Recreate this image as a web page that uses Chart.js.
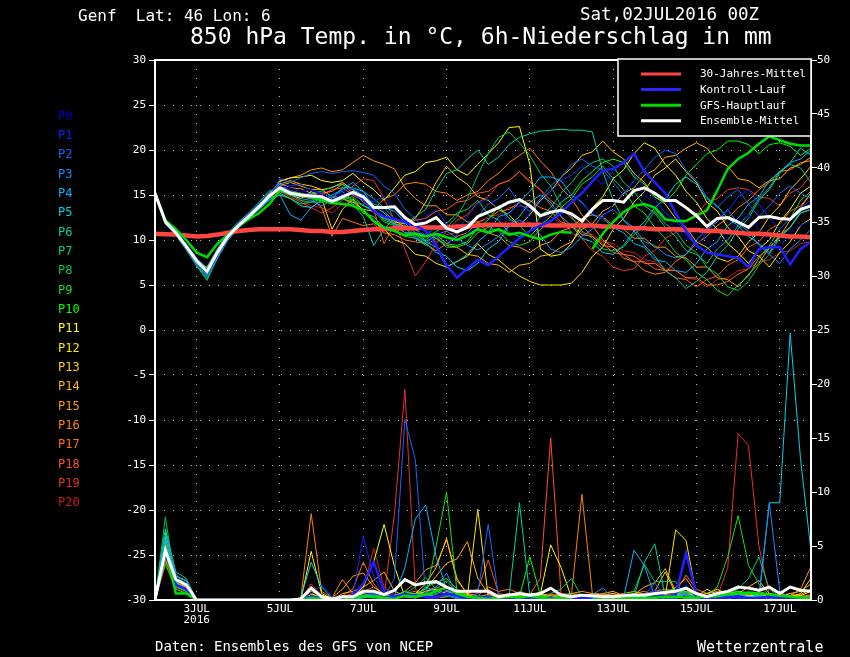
<!DOCTYPE html>
<html><head><meta charset="utf-8">
<script src="https://cdn.jsdelivr.net/npm/chart.js@4.4.0/dist/chart.umd.min.js"></script>
<style>html,body{margin:0;padding:0;background:#000;}canvas{display:block;}</style>
</head><body>
<canvas id="c" width="850" height="657"></canvas>
<script>
// forecast hours (6h steps from Sat 02JUL2016 00Z)
const hours = Array.from({length: 64}, (_, i) => i * 6);
const tickHours = [24, 72, 120, 168, 216, 264, 312, 360];
const tickLabels = [['3JUL', '2016'], '5JUL', '7JUL', '9JUL', '11JUL', '13JUL', '15JUL', '17JUL'];
const tempTicks = [-30, -25, -20, -15, -10, -5, 0, 5, 10, 15, 20, 25, 30];
const precipTicks = [0, 5, 10, 15, 20, 25, 30, 35, 40, 45, 50];

const memberNames = ['P0','P1','P2','P3','P4','P5','P6','P7','P8','P9','P10','P11','P12','P13','P14','P15','P16','P17','P18','P19','P20'];
const memberColors = ['#0000d2','#0028ff','#1464ff','#1e8cff','#00b4ff','#00d2e6','#00d2a0','#00cc78','#00c850','#1edc1e','#00ff00','#ffff00','#ffe600','#ffcc00','#ffb400','#ff9b00','#ff8200','#ff6e14','#ff5028','#e63228','#c81e1e'];

// 850 hPa temperature (°C) per member
const tP0 = [15.2,12.1,10.8,9.3,7.5,6.2,8.3,10.2,11.5,12.6,13.6,14.8, 16.0,15.8,15.4,15.6,15.0,14.5,15.1,15.4,14.6, 13.8,13.2,12.4,12.0,11.0,10.6,11.5,10.0, 9.6,10.8,11.4,12.6,11.6,12.9,13.8,12.4,11.6,13.2,14.4,15.2, 14.0,13.0,12.4,14.0,15.3,16.4,15.0,13.8,12.6,11.2,10.0,11.4, 10.0,9.0,10.6,12.0,12.8,11.2,10.0,9.2,10.8,11.6,12.2];
const tP1 = [15.2,12.2,10.9,9.3,7.6,6.3,8.5,10.3,11.6,12.7,13.8,15.0, 16.4,16.0,16.2,15.5,15.2,14.8,15.4,15.8,15.0, 14.2,14.9,13.4,12.2,11.4,12.6,13.4,11.8, 11.0,12.6,14.0,14.6,13.4,12.2,11.6,13.0,14.2,15.4,16.6,17.2, 18.2,17.0,16.2,17.6,18.8,17.2,16.0,14.6,13.0,12.2,10.6,9.4, 10.8,12.4,13.2,14.8,15.6,14.0,12.4,11.2,12.4,13.6,14.4];
const tP2 = [15.2,11.8,10.6,9.0,7.2,5.9,8.2,10.2,11.5,12.5,13.5,14.6, 16.8,16.4,16.9,17.4,17.6,17.4,17.6,17.7,17.5, 17.2,16.0,15.2,13.4,12.4,11.0,10.4,9.4, 10.6,11.8,12.6,14.0,14.6,15.8,14.0,13.2,14.6,16.0,17.0,18.4, 19.0,18.2,17.8,16.4,15.0,16.6,17.8,19.2,20.0,19.6,17.8,16.6, 14.8,13.6,14.8,15.6,14.0,12.6,13.8,15.2,16.0,15.2,14.6];
const tP3 = [15.2,12.0,11.0,9.6,8.0,6.7,8.8,10.6,11.8,12.9,14.0,15.3, 16.2,15.4,14.6,14.4,13.8,14.4,14.8,15.4,14.2, 13.4,12.4,11.9,10.8,10.4,9.6,10.6,11.0, 10.2,9.4,8.9,9.6,10.4,11.6,12.2,11.6,10.6,9.0,8.6,9.2, 10.4,11.2,12.8,13.4,12.2,11.4,9.8,9.4,8.4,8.0,8.4,10.0, 11.2,12.0,13.4,11.8,11.0,9.4,8.4,7.4,9.0,10.0,11.2];
const tP4 = [15.2,12.1,10.7,9.2,7.4,6.1,8.0,10.0,11.3,12.4,13.4,14.5, 15.0,12.8,12.2,13.6,14.4,15.0,15.6,16.4,15.4, 14.6,13.6,13.2,12.0,11.2,9.8,9.2,7.0, 7.6,8.4,9.8,10.8,12.6,13.0,14.2,15.4,17.0,17.0,16.6,15.0, 14.2,12.8,12.4,11.4,10.8,9.6,9.2,7.8,7.6,6.6,6.4,7.4, 9.0,9.8,11.6,12.4,14.0,14.8,16.6,17.6,18.6,19.0,20.0];
const tP5 = [15.2,11.9,10.8,9.5,7.9,6.9,9.0,10.8,12.0,13.0,14.2,15.5, 15.2,14.6,13.8,13.6,14.4,14.6,15.8,15.8,15.4, 13.8,13.0,11.8,11.4,10.2,9.6,8.6,8.2, 7.0,6.6,7.4,9.0,9.8,11.6,12.6,14.2,15.0,14.2,12.6,11.6, 10.2,9.8,8.6,8.4,9.4,11.0,12.0,13.6,14.6,16.2,17.0,16.2, 14.6,13.8,12.4,11.6,10.4,9.6,8.6,10.4,11.4,13.0,13.4];
const tP6 = [15.2,12.2,10.9,9.3,7.6,6.2,8.5,10.3,11.6,12.7,13.8,15.0, 16.0,15.4,15.0,14.6,14.4,14.0,14.6,14.0,12.6, 9.4,11.2,12.4,11.8,12.6,13.4,15.6,17.4, 17.8,19.0,20.0,18.4,19.2,20.6,21.4,21.8,22.1,22.2,22.3,22.2, 22.2,22.0,17.6,14.4,12.2,11.0,9.4,8.2,6.6,5.8,4.6,5.4, 6.4,8.2,9.4,11.2,12.4,14.4,15.6,17.4,18.6,20.2,19.4];
const tP7 = [15.2,11.8,10.6,9.0,7.2,5.7,8.2,10.2,11.5,12.5,13.5,14.6, 15.8,15.0,14.8,15.2,15.4,15.9,16.2,15.6,15.0, 14.0,13.6,12.4,11.9,10.8,10.6,11.4,11.8, 13.0,13.4,14.4,12.8,12.2,10.8,10.4,11.0,12.6,13.6,15.2,16.4, 17.8,18.6,19.0,18.2,16.4,15.4,13.8,13.0,11.4,10.4,8.8,8.4, 7.4,9.0,10.0,11.6,12.8,14.6,15.8,17.6,18.4,18.0,16.4];
const tP8 = [15.2,11.8,10.5,8.9,7.1,5.5,8.0,10.0,11.4,12.4,13.4,14.4, 15.4,15.0,14.4,14.2,14.6,14.8,15.4,14.4,13.8, 13.2,12.0,11.6,10.8,10.8,10.0,11.0,11.4, 12.6,14.6,17.2,19.6,21.4,22.0,20.8,19.4,17.4,16.0,13.8,12.6, 11.0,10.2,9.0,8.8,9.2,10.6,11.6,13.2,11.8,11.0,9.4,8.6, 7.0,6.2,4.8,4.4,5.4,7.2,8.4,10.2,11.4,13.2,13.8];
const tP9 = [15.2,12.0,10.8,9.2,7.4,6.0,8.3,10.2,11.5,12.6,13.6,14.7, 15.0,14.6,14.0,14.2,14.2,14.8,14.8,14.4,13.0, 12.6,11.4,11.2,10.4,10.2,9.4,10.2,9.2, 9.2,9.6,10.8,11.4,11.0,9.8,9.4,9.8,11.2,12.0,13.6,14.6, 16.2,17.0,18.2,16.8,15.6,13.8,13.0,11.4,10.2,8.6,7.8,6.4, 5.6,4.4,3.8,5.0,6.0,8.0,9.4,11.2,12.4,14.4,15.4];
const tP10 = [15.2,12.0,10.9,9.4,7.7,6.4,8.6,10.4,11.7,12.8,13.9,15.1, 15.6,15.2,15.0,14.8,14.6,14.0,14.6,14.8,13.8, 13.4,12.2,11.8,10.8,10.6,9.8,10.6,9.6, 9.4,9.8,11.4,12.2,13.8,12.4,11.6,10.4,11.6,12.6,14.2,15.0, 16.6,17.6,18.6,19.0,18.6,17.0,16.2,14.8,14.2,15.4,17.2,18.4, 19.6,20.0,21.0,21.0,20.6,19.6,20.6,20.8,20.4,19.4,20.2];
const tP11 = [15.2,12.1,10.8,9.3,7.5,6.2,8.4,10.3,11.6,12.7,13.8,15.0, 16.5,16.9,17.0,17.2,16.6,16.4,16.6,17.4,16.4, 15.6,14.4,15.8,17.2,17.6,18.6,18.8,19.2, 17.8,17.2,18.4,19.6,20.8,22.5,22.6,18.4,9.0,8.2,8.4,9.6, 11.8,13.6,14.8,16.8,17.8,19.6,20.8,20.2,18.4,17.2,15.4,14.2, 12.4,11.2,9.6,8.6,7.4,9.0,10.0,12.0,13.4,15.2,16.0];
const tP12 = [15.2,11.9,10.7,9.3,7.6,6.4,8.6,10.4,11.7,12.7,13.7,14.9, 15.5,15.0,14.6,15.4,14.6,11.2,13.4,14.6,13.2, 12.0,11.2,10.0,9.6,8.4,8.2,7.4,7.0, 7.6,8.2,9.6,8.4,7.8,6.8,6.0,5.4,5.0,5.0,5.0,5.2, 6.4,8.2,9.2,11.2,12.4,14.2,15.4,17.2,18.0,19.0,17.6,16.4, 14.2,13.2,11.4,10.4,8.8,8.2,7.0,8.6,9.8,11.6,12.4];
const tP13 = [15.2,12.0,10.9,9.4,7.8,6.6,8.7,10.5,11.7,12.8,13.9,15.2, 16.2,16.6,16.2,16.0,15.6,15.8,16.4,15.6,14.6, 13.8,13.2,12.0,11.8,12.4,14.2,16.4,18.2, 17.0,16.2,14.8,14.4,13.4,12.8,11.6,12.8,14.4,15.4,17.0,18.0, 19.4,19.8,21.0,19.8,19.0,17.4,16.4,14.8,14.0,12.4,11.4,9.8, 9.2,8.0,7.6,8.2,9.8,10.8,12.6,13.8,15.6,16.8,18.2];
const tP14 = [15.2,12.1,10.8,9.2,7.3,6.6,8.8,10.5,11.6,12.6,13.6,14.8, 16.0,16.4,16.0,15.6,15.6,14.8,14.6,14.2,13.4, 13.2,12.4,12.2,11.4,11.2,10.4,10.2,9.4, 9.2,8.4,8.2,7.4,7.2,6.4,7.2,7.4,8.2,8.4,9.2,9.8, 11.2,11.8,13.2,13.8,15.2,15.8,17.2,17.8,19.2,19.4,20.2,20.8, 20.2,18.8,18.2,16.8,16.6,15.8,16.6,16.8,18.0,18.4,19.2];
const tP15 = [15.2,12.0,10.7,9.1,7.3,7.0,9.0,10.6,11.7,12.7,13.8,15.0, 16.6,16.9,17.2,17.8,18.0,17.6,17.8,18.6,19.4, 18.8,18.4,17.9,15.8,14.6,13.8,13.8,12.8, 12.8,12.0,12.0,10.8,10.4,9.4,9.2,8.6,9.4,9.8,11.0,11.4, 12.4,12.8,12.6,11.6,11.2,10.2,10.2,9.2,9.2,8.2,8.0,7.0, 7.0,5.8,5.6,4.8,6.2,7.4,9.2,10.4,12.2,13.6,15.2];
const tP16 = [15.2,12.1,10.9,9.4,7.7,6.9,8.9,10.6,11.7,12.8,13.9,15.1, 16.3,15.8,15.7,15.2,15.2,15.4,16.2,15.2,14.8, 13.4,14.6,15.0,16.2,16.4,16.2,15.4,15.2, 14.4,15.0,15.4,16.6,17.4,18.6,19.4,20.2,18.8,17.6,15.8,14.6, 12.8,11.6,10.0,9.2,8.0,7.6,6.6,6.2,6.4,7.6,8.4,9.6, 10.4,11.6,12.4,13.6,14.4,15.6,16.4,17.6,17.8,18.6,18.8];
const tP17 = [15.2,11.9,10.8,9.4,7.8,6.5,8.6,10.4,11.6,12.7,13.8,15.1, 15.8,15.4,14.8,14.6,13.6,10.4,12.4,12.0,11.6, 11.8,10.8,10.6,10.0,9.8,9.6,8.8,9.6, 10.4,10.8,12.0,12.4,13.2,13.4,14.2,14.4,13.6,13.2,12.0,11.6, 10.6,10.4,9.4,9.2,8.4,8.2,7.4,7.4,6.6,6.6,5.8,5.8, 5.0,5.0,5.4,6.2,6.8,8.2,9.0,10.6,11.4,13.0,13.4];
const tP18 = [15.2,12.2,10.9,9.3,7.6,6.3,8.4,10.2,11.5,12.6,13.6,14.8, 15.9,15.5,15.2,14.8,15.0,15.6,15.8,15.0,14.4, 13.4,9.6,11.8,11.6,12.2,12.4,13.2,13.4, 14.2,14.4,15.2,15.4,16.2,16.6,17.6,16.4,15.6,14.4,13.6,12.4, 11.6,10.4,9.6,8.6,8.4,7.6,7.6,6.8,6.6,5.8,5.6,4.8, 5.6,6.0,7.2,7.8,9.2,9.8,11.2,11.8,13.2,13.8,15.2];
const tP19 = [15.2,12.0,10.7,9.1,7.2,6.0,8.2,10.1,11.4,12.4,13.5,14.6, 15.4,14.8,14.2,13.6,13.0,13.6,14.4,16.0,16.8, 16.6,14.6,12.2,9.0,6.0,7.6,9.6,11.0, 12.2,12.8,14.2,14.8,16.2,16.6,17.6,16.6,15.6,13.8,12.6,10.8, 10.2,8.8,8.2,7.0,6.6,6.8,8.2,8.8,10.2,10.8,12.2,12.8, 14.2,14.6,15.6,15.8,15.6,14.8,14.6,13.8,15.2,15.8,17.2];
const tP20 = [15.2,12.1,10.8,9.2,7.4,6.1,8.2,10.1,11.4,12.5,13.5,14.7, 15.0,14.6,14.4,13.8,13.6,13.0,14.0,14.2,14.0, 13.0,12.6,11.6,11.4,10.6,10.6,9.8,10.6, 10.8,11.6,11.8,12.6,12.8,13.6,13.8,13.6,12.8,12.6,11.8,11.6, 10.8,10.6,9.8,9.6,8.8,8.6,7.8,7.6,6.8,6.6,5.8,5.6, 4.8,5.6,5.8,6.6,6.8,7.6,7.8,8.6,8.8,9.6,9.8];

// 6h precipitation (mm) per member
const pP0 = [0,4.0,1.4,1.0,0,0,0,0, 0,0,0,0,0,0,0,0.4, 0.2,0,0,0.2,0.5,0.8,0.3,0.2, 0.6,0.3,0.2,0.4,1.0,0.6,0.2,0.3, 0.2,0,0.1,0.2,0,0.1,0.3,0.1, 0,0.2,0.1,0,0,0.3,0.2,0.1, 0.4,0.2,0.6,1.5,0.2,0,0.1,0.3, 0.4,0.2,0.1,0.3,0.4,0.2,0.1,0.1];
const pP1 = [0,5.0,1.8,1.6,0,0,0,0, 0,0,0,0,0,0,0,0.6, 1.4,0.3,0,0.4,5.9,2.2,0.4,0.2, 0.3,0.5,0.2,0.1,0.6,0.3,0.1,0.2, 0.4,0.1,0,0.2,0.1,0,0.2,0.1, 0,0.1,0,0.2,0.1,0,0.3,0.2, 0.5,0.3,0.4,4.6,0.2,0.1,0,0.2, 0.3,0.1,0.2,0.4,0.2,0.3,0.1,0];
const pP2 = [0,4.4,2.0,1.2,0,0,0,0, 0,0,0,0,0,0,0,0.2, 0.3,0,0.1,0.2,0.8,0.4,0.2,2.0, 16.7,13.0,0.3,0.2,0.4,0.1,0.2,0.6, 7.0,0.3,0.1,0,0.2,0.1,0,0.1, 0.2,0,0.1,0.3,0.1,0,0.2,0.4, 1.6,0.2,0.1,0.5,0.1,0,0.2,0.1, 0.3,0.2,0,0.2,0.1,0,0.1,0.2];
const pP3 = [0,6.0,2.2,1.8,0,0,0,0, 0,0,0,0,0,0,0,1.2, 0.2,0,0,0.1,0.4,0.6,0.2,0.3, 0.5,0.2,0.6,1.2,2.5,0.4,0.2,0.1, 0.3,0.1,0,0.2,0,0.1,0.2,0, 0.1,0.3,0.5,1.1,0.2,0.1,0.2,0, 0.3,0.1,0.2,0.6,0.1,0,0.2,0.4, 0.5,0.3,0.3,9.0,0.8,0.2,0.1,0];
const pP4 = [0,5.6,2.4,1.4,0,0,0,0, 0,0,0,0,0,0,0,1.0, 0.4,0.1,0,0.2,0.3,0.5,0.2,0.4, 3.0,7.5,8.8,4.0,1.0,0.3,0.2,0.1, 0.2,0.3,0.1,0,0.1,0.2,0,0.1, 0,0.1,0.2,0.1,0.2,0.2,4.6,3.2, 0.3,0.2,0.4,1.2,0.3,0.1,0,0.2, 0.3,0.1,0.2,0.3,0.2,0.1,0,0.1];
const pP5 = [0,4.8,1.6,1.0,0,0,0,0, 0,0,0,0,0,0,0.2,3.5, 1.2,0.2,0,0.1,0.2,0.3,0.1,0.2, 0.4,0.3,1.2,0.8,0.6,0.3,0.1,0.2, 0.1,0,0.2,0.1,0.2,0,0.1,0.2, 0.1,0,0.2,0.4,0.1,0.2,0.3,0.5, 0.2,0.4,0.3,0.6,0.2,0.1,0.3,0.2, 0.4,0.3,0.2,9.0,9.0,24.7,13.0,4.5];
const pP6 = [0,6.6,2.6,2.0,0,0,0,0, 0,0,0,0,0,0,0,0.3, 0.1,0,0,0.2,0.4,0.3,0.1,0.2, 0.3,0.2,0.4,0.6,0.9,0.2,0.1,0.3, 0.2,0.1,0.3,9.0,0.3,0.1,0.2,0.4, 0.6,0.2,0.1,0.2,0.3,0.4,0.3,3.5, 5.2,0.3,0.4,0.6,0.2,0.1,0.2,0.4, 0.3,0.6,0.4,0.3,0.2,0.4,0.2,0.1];
const pP7 = [0,5.2,2.0,1.6,0,0,0,0, 0,0,0,0,0,0,0,0.2, 0.2,0.1,0,0.2,0.3,0.2,0.4,0.3, 0.8,0.4,0.6,0.3,0.5,0.2,0.1,0.3, 0.2,0.1,0,0.3,0.2,0.1,0.6,1.0, 2.0,0.3,0.2,0.1,0.2,0.3,0.2,0.6, 0.4,0.3,0.5,1.0,0.6,0.3,0.4,0.6, 1.0,2.0,4.0,1.0,0.3,0.2,0.1,0.2];
const pP8 = [0,7.7,1.2,0.8,0,0,0,0, 0,0,0,0,0,0,0,0.1, 0,0,0.1,0.2,0.3,0.2,0.1,0.3, 0.6,1.2,2.1,1.0,1.8,0.6,0.2,0.4, 0.3,0.2,0.1,0.4,0.6,0.2,0.1,0.2, 0.1,0,0.2,0.3,0.2,0.4,0.8,3.3, 1.7,1.7,1.7,0.3,0.2,0.1,0.3,0.5, 0.4,0.6,0.3,0.2,0.1,0,0.1,0.1];
const pP9 = [0,3.4,1.0,0.6,0,0,0,0, 0,0,0,0,0,0,0,0.2, 0.1,0,0,0.1,0.2,0.4,0.3,0.2, 0.4,0.6,0.5,5.0,10.0,0.8,0.3,0.2, 0.1,0.2,0.3,0.1,0.2,0.4,0.1,0.2, 0.1,0.2,0.3,0.1,0.2,0.3,0.4,0.6, 0.3,0.2,0.5,0.8,0.6,0.4,1.2,4.0, 7.8,3.2,1.5,0.4,0.2,0.1,0.1,0.2];
const pP10 = [0,6.4,1.4,0.9,0,0,0,0, 0,0,0,0,0,0,0,0.3, 0.1,0,0,0.2,0.3,0.2,0.6,0.3, 0.8,0.4,1.2,1.6,2.0,1.0,0.4,0.2, 0.3,0.2,0.1,0.3,4.0,0.5,0.2,0.1, 0.3,0.2,0.1,0.2,0.3,0.1,0.2,0.4, 0.6,0.8,1.0,0.7,0.4,0.3,0.2,0.5, 0.8,0.6,0.4,0.3,0.2,0.1,0.1,0.1];
const pP11 = [0,5.8,2.2,1.8,0,0,0,0, 0,0,0,0,0,0,0,4.5, 0.6,0.1,0,0.3,1.2,3.5,7.0,3.1, 0.3,0.2,0.4,0.2,0.3,0.5,0.2,0.1, 0.3,0.2,0.1,0.4,0.6,0.5,5.1,3.0, 0.2,0.1,0.3,0.2,0.4,0.3,0.6,0.4, 0.5,0.3,0.2,0.6,0.4,0.6,1.0,0.5, 0.4,0.3,0.6,0.2,0.3,0.2,0.4,0.8];
const pP12 = [0,4.2,1.8,1.4,0,0,0,0, 0,0,0,0,0,0,0,0.5, 0.2,0,0,0.3,0.5,0.8,0.4,0.2, 0.3,0.5,0.8,1.0,0.6,0.2,0.3,8.4, 0.3,0.2,0.1,0.3,0.6,0.4,0.2,0.3, 0.2,0.1,0.4,0.2,0.3,0.2,0.5,0.3, 0.6,0.3,6.5,5.5,0.4,0.3,0.2,0.5, 0.6,0.4,0.3,0.6,0.4,0.3,0.6,2.0];
const pP13 = [0,6.2,2.0,1.2,0,0,0,0, 0,0,0,0,0,0,0,0.6, 0.2,0.1,0,0.2,0.6,0.4,0.3,0.2, 0.5,0.6,1.5,3.0,5.7,2.0,0.5,0.3, 0.2,0.4,0.6,0.3,0.2,0.5,0.3,0.2, 0.1,0.3,0.2,0.4,0.6,0.3,0.2,0.4, 0.8,2.6,0.6,0.4,0.3,1.0,0.5,0.4, 0.6,1.2,1.8,0.6,0.4,0.3,0.5,1.0];
const pP14 = [0,3.8,1.6,1.2,0,0,0,0, 0,0,0,0,0,0,0,0.3, 0.1,0,0.6,0.8,1.2,1.8,2.6,0.8, 0.4,0.6,1.0,2.2,3.4,3.8,5.4,2.0, 0.6,0.4,0.3,0.5,0.3,0.6,0.4,0.2, 0.3,0.2,0.4,0.6,0.8,0.4,0.5,1.2, 1.6,2.9,0.8,1.0,0.4,0.3,0.6,0.8, 0.5,0.3,0.6,0.4,0.3,0.6,0.8,1.5];
const pP15 = [0,4.6,1.9,1.5,0,0,0,0, 0,0,0,0,0,0,0.1,0.8, 0.4,0.2,1.0,2.2,2.5,1.2,0.6,0.4, 0.8,1.6,2.8,3.2,5.6,1.8,0.6,0.4, 0.3,0.5,0.2,0.4,0.6,0.3,0.5,0.4, 0.6,0.8,0.6,0.5,0.4,0.6,0.8,0.5, 0.4,0.6,1.2,2.0,0.6,0.4,0.5,0.6, 0.8,0.5,0.4,0.3,0.6,0.4,1.0,3.1];
const pP16 = [0,5.4,1.7,1.1,0,0,0,0, 0,0,0,0,0,0,0.2,8.0, 0.8,0.2,1.9,0.6,0.4,0.8,0.5,0.3, 0.6,0.4,0.8,1.2,0.9,0.6,0.4,0.3, 0.5,0.3,0.4,0.6,0.5,0.4,0.3,0.6, 0.5,9.8,0.6,0.5,0.3,0.4,0.6,0.8, 0.5,0.4,0.6,0.8,0.5,0.3,0.4,0.6, 0.8,0.6,0.5,0.3,0.4,0.3,0.2,0.4];
const pP17 = [0,4.0,1.3,0.8,0,0,0,0, 0,0,0,0,0,0,0,0.5, 0.3,0.1,0.4,1.0,3.5,1.5,0.4,0.3, 0.6,0.8,0.4,0.3,0.6,0.8,0.5,0.4, 1.2,0.8,1.0,0.6,0.4,0.5,0.3,0.4, 0.6,0.5,0.4,0.5,0.6,0.4,0.3,0.6, 0.8,1.0,0.8,2.3,1.0,0.6,0.8,0.5, 0.6,0.4,0.8,0.5,0.4,0.6,0.3,0.5];
const pP18 = [0,3.6,1.5,1.0,0,0,0,0, 0,0,0,0,0,0,0,0.3, 0.2,0.1,0.3,0.6,0.8,1.2,0.5,0.3, 0.4,0.6,0.3,0.5,0.8,0.4,0.6,1.0, 3.7,0.6,0.4,0.8,0.5,2.0,15.0,0.5, 0.4,0.3,0.6,0.5,0.4,0.3,0.5,0.6, 0.8,0.5,0.4,0.6,0.5,0.4,0.3,0.6, 0.4,0.3,0.5,0.2,0.3,0.4,0.3,0.2];
const pP19 = [0,4.4,1.2,0.9,0,0,0,0, 0,0,0,0,0,0,0,1.5, 0.4,0.2,0.1,0.3,0.6,0.8,0.3,8.0, 19.5,1.0,0.4,0.3,0.6,0.4,0.2,0.3, 0.5,0.3,0.2,0.4,0.3,0.5,0.3,0.2, 0.3,0.4,0.2,0.3,0.4,0.5,0.3,0.4, 0.6,0.5,0.4,0.8,0.5,0.4,0.3,3.0, 15.4,14.3,5.0,0.5,0.3,0.2,0.4,0.3];
const pP20 = [0,3.2,1.1,0.7,0,0,0,0, 0,0,0,0,0,0,0,0.2, 0.1,0,0.2,0.4,1.0,4.8,1.2,0.5, 0.3,0.6,0.4,0.2,0.5,0.3,0.4,0.6, 1.0,0.4,0.3,0.5,0.2,0.4,0.6,0.3, 0.2,0.4,0.3,0.2,0.5,0.3,0.4,0.6, 0.4,0.3,0.5,0.6,0.4,0.3,0.5,0.8, 0.6,0.4,0.3,0.5,0.4,0.2,0.3,0.4];

// special series
const temp30y = [10.7,10.65,10.6,10.5,10.4,10.45,10.6,10.8,11.0, 11.1,11.2,11.2,11.2,11.2,11.1,11.0,11.0, 10.9,10.9,11.0,11.1,11.2,11.2,11.3,11.3, 11.3,11.4,11.4,11.4,11.5,11.5,11.6,11.7, 11.7,11.7,11.7,11.7,11.7,11.6,11.6,11.6, 11.6,11.6,11.5,11.5,11.4,11.3,11.3,11.2, 11.2,11.2,11.1,11.1,11.0,11.0,10.9,10.8, 10.7,10.7,10.6,10.5,10.4,10.4,10.3];
const tempControl = [15.2,12.1,10.9,9.4,7.7,6.4,8.5,10.3,11.6,12.6,13.7,14.9, 15.8,15.4,15.1,15.0,14.8,14.4,14.9,15.2,14.6, 13.2,12.6,12.3,12.0,11.6,11.0,9.4,7.2, 5.8,6.8,7.8,7.2,8.2,9.2,10.2,11.0,11.6,12.1,13.0,14.2, 15.2,16.5,17.7,17.9,18.6,19.6,17.6,16.4,15.2,13.0,11.0,9.4, 8.6,8.4,8.2,8.0,7.0,9.0,9.2,9.2,7.3,9.0,9.8];
const tempMain = [15.2,12.2,11.2,10.0,8.6,8.1,9.6,10.6,11.5,12.3,13.0,14.0, 15.5,15.3,15.1,14.8,14.4,14.1,14.0,13.8,13.3, 12.1,11.4,11.0,10.5,10.7,10.4,10.7,10.3, 10.0,10.5,11.2,10.8,11.2,10.6,10.8,10.4,10.1,10.6,10.9,10.8, null,9.0,10.7,12.0,13.1,13.8,14.0,13.6,12.3,12.1,12.1,12.7, 13.3,15.5,17.9,19.0,19.7,20.7,21.5,21.1,20.7,20.5,20.5];
const tempMean = [15.2,12.0,10.8,9.3,7.7,6.5,8.6,10.4,11.6,12.6,13.7,14.9, 15.8,15.2,15.0,14.9,14.8,14.3,14.8,15.3,14.8, 13.6,13.6,13.7,12.5,11.7,11.9,12.5,11.3, 10.9,11.4,12.6,13.1,13.6,14.2,14.5,13.8,12.7,13.1,13.3,12.9, 12.1,13.4,14.4,14.4,14.2,15.5,15.8,15.2,14.4,14.4,13.6,12.7, 11.5,12.4,12.5,12.0,11.4,12.5,12.6,12.4,12.3,13.4,13.8];
const precipControl = [0,4.4,1.4,1.0,0,0,0,0, 0,0,0,0,0,0,0,0.3, 0.2,0,0,0.4,1.5,3.5,0.8,0.3, 0.5,0.4,0.3,0.2,0.6,0.4,0.2,0.3, 0.2,0.1,0.2,0.1,0.3,0.2,0.1,0.2, 0.1,0.2,0.1,0.2,0.1,0.3,0.2,0.4, 0.8,0.3,0.5,4.3,0.5,0.2,0.1,0.3, 0.2,0.1,0.2,0.3,0.2,0.1,0.2,0.1];
const precipMain = [0,4.8,0.6,0.6,0,0,0,0, 0,0,0,0,0,0,0,0.2, 0.1,0,0,0.2,0.4,0.3,0.2,0.1, 0.4,0.3,0.5,0.8,1.2,0.6,0.3,0.2, 0.1,0.2,0.3,0.2,0.4,0.2,0.1,0.2, 0.1,null,0.1,0.1,0.1,0.2,0.2,0.2, 0.2,0.3,0.3,0.2,0.2,0.3,0.4,0.5, 0.6,0.7,0.6,0.5,0.4,0.3,0.2,0.2];
const precipMean = [0,4.6,1.9,1.4,0,0,0,0, 0,0,0,0,0,0,0.1,1.1, 0.3,0.1,0.3,0.3,0.8,0.8,0.5,0.9, 1.9,1.4,1.6,1.7,1.2,0.8,0.8,0.8, 0.8,0.3,0.45,0.6,0.45,0.6,1.1,0.45, 0.3,0.45,0.4,0.3,0.3,0.4,0.45,0.45, 0.6,0.7,0.8,1.1,0.6,0.3,0.6,0.8, 1.2,1.1,0.9,1.2,0.6,1.2,0.9,0.8];

const tempMembers = [tP0,tP1,tP2,tP3,tP4,tP5,tP6,tP7,tP8,tP9,tP10,tP11,tP12,tP13,tP14,tP15,tP16,tP17,tP18,tP19,tP20];
const precipMembers = [pP0,pP1,pP2,pP3,pP4,pP5,pP6,pP7,pP8,pP9,pP10,pP11,pP12,pP13,pP14,pP15,pP16,pP17,pP18,pP19,pP20];

const legendItems = [
  {label: '30-Jahres-Mittel', color: '#ff4646'},
  {label: 'Kontroll-Lauf', color: '#2828ff'},
  {label: 'GFS-Hauptlauf', color: '#00dc00'},
  {label: 'Ensemble-Mittel', color: '#ffffff'}
];

const MONO = '"DejaVu Sans Mono", monospace';
const COL30 = '#ff4444', COLCTRL = '#2020ff', COLMAIN = '#00dd00', COLMEAN = '#ffffff';

function pts(arr) { return arr.map((v, i) => ({x: hours[i], y: v})); }
function line(arr, axis, color, width, order) {
  return {data: pts(arr), yAxisID: axis, borderColor: color, borderWidth: width, order: order,
          pointRadius: 0, tension: 0, fill: false, spanGaps: false};
}

const datasets = [];
for (let m = 0; m < memberNames.length; m++) {
  datasets.push(line(precipMembers[m], 'y2', memberColors[m], 1, 20));
  datasets.push(line(tempMembers[m], 'y', memberColors[m], 1, 10));
}
datasets.push(line(temp30y, 'y', COL30, 4.5, 5));
datasets.push(line(precipControl, 'y2', COLCTRL, 2.5, 4));
datasets.push(line(tempControl, 'y', COLCTRL, 2.5, 4));
datasets.push(line(precipMain, 'y2', COLMAIN, 2.5, 3));
datasets.push(line(tempMain, 'y', COLMAIN, 2.5, 3));
datasets.push(line(precipMean, 'y2', COLMEAN, 3, 1));
datasets.push(line(tempMean, 'y', COLMEAN, 3, 1));

const deco = {
  id: 'deco',
  beforeDraw(chart) {
    const c = chart.ctx;
    c.save(); c.fillStyle = '#000'; c.fillRect(0, 0, chart.width, chart.height); c.restore();
  },
  afterDatasetsDraw(chart) {
    const c = chart.ctx, a = chart.chartArea;
    c.save();
    c.strokeStyle = '#fff'; c.lineWidth = 2; c.setLineDash([]);
    c.strokeRect(a.left, a.top, a.right - a.left, a.bottom - a.top);
    // legend box
    const bx = 618, by = 59, bw = a.right - bx, bh = 77;
    c.fillStyle = '#000'; c.fillRect(bx, by, bw, bh);
    c.lineWidth = 1.5; c.strokeRect(bx, by, bw, bh);
    c.font = '11px ' + MONO; c.textBaseline = 'middle'; c.textAlign = 'left';
    const ys = [74, 89.5, 105.3, 120.7];
    legendItems.forEach((it, i) => {
      c.strokeStyle = it.color; c.lineWidth = 3;
      c.beginPath(); c.moveTo(641, ys[i]); c.lineTo(681, ys[i]); c.stroke();
      c.fillStyle = '#fff'; c.fillText(it.label, 700, ys[i] + 0.5);
    });
    c.restore();
  },
  afterDraw(chart) {
    const c = chart.ctx;
    c.save();
    c.fillStyle = '#fff'; c.textAlign = 'left'; c.textBaseline = 'alphabetic';
    c.font = '16px ' + MONO; c.fillText('Genf  Lat: 46 Lon: 6', 78, 21);
    c.font = '17.5px ' + MONO; c.fillText('Sat,02JUL2016 00Z', 580, 20);
    c.font = '23px ' + MONO; c.fillText('850 hPa Temp. in \u00B0C, 6h-Niederschlag in mm', 190, 44);
    c.font = '14px ' + MONO; c.fillText('Daten: Ensembles des GFS von NCEP', 155, 651);
    c.font = '15px ' + MONO; c.fillText('Wetterzentrale', 697, 652);
    c.font = '12px ' + MONO; c.textBaseline = 'middle';
    memberNames.forEach((n, i) => { c.fillStyle = memberColors[i]; c.fillText(n, 58, 116.7 + i * 19.33); });
    c.restore();
  }
};

Chart.defaults.color = '#ffffff';
Chart.defaults.font.family = MONO;
Chart.defaults.font.size = 11;

new Chart(document.getElementById('c'), {
  type: 'line',
  data: {datasets},
  options: {
    responsive: false, animation: false, devicePixelRatio: 1, events: [],
    layout: {padding: {top: 60, left: 0, right: 0, bottom: 0}},
    plugins: {legend: {display: false}, tooltip: {enabled: false}, title: {display: false}},
    scales: {
      x: {
        type: 'linear', min: 0, max: 378,
        afterBuildTicks: s => { s.ticks = tickHours.map(v => ({value: v})); },
        afterFit: s => { s.height = 57; },
        ticks: {color: '#fff', padding: 4, maxRotation: 0, autoSkip: false,
                font: {size: 11, lineHeight: 1.0},
                callback: (v) => { const k = tickHours.indexOf(v); return k >= 0 ? tickLabels[k] : ''; }},
        grid: {color: '#bdbdbd', lineWidth: 1, drawTicks: false},
        border: {display: false, dash: [1, 8]}
      },
      y: {
        position: 'left', min: -30, max: 30,
        afterBuildTicks: s => { s.ticks = tempTicks.map(v => ({value: v})); },
        afterFit: s => { s.width = 155; },
        ticks: {color: '#fff', padding: 3, font: {size: 11}},
        grid: {color: '#bdbdbd', lineWidth: 1, drawTicks: true, tickLength: 6, tickColor: '#fff', tickWidth: 1, tickBorderDash: []},
        border: {display: false, dash: [1, 8]}
      },
      y2: {
        position: 'right', min: 0, max: 50,
        afterBuildTicks: s => { s.ticks = precipTicks.map(v => ({value: v})); },
        afterFit: s => { s.width = 39; },
        ticks: {color: '#fff', padding: 0, font: {size: 11}},
        grid: {drawOnChartArea: false, drawTicks: true, tickLength: 6, tickColor: '#fff', tickWidth: 1},
        border: {display: false}
      }
    }
  },
  plugins: [deco]
});
</script>
</body></html>
